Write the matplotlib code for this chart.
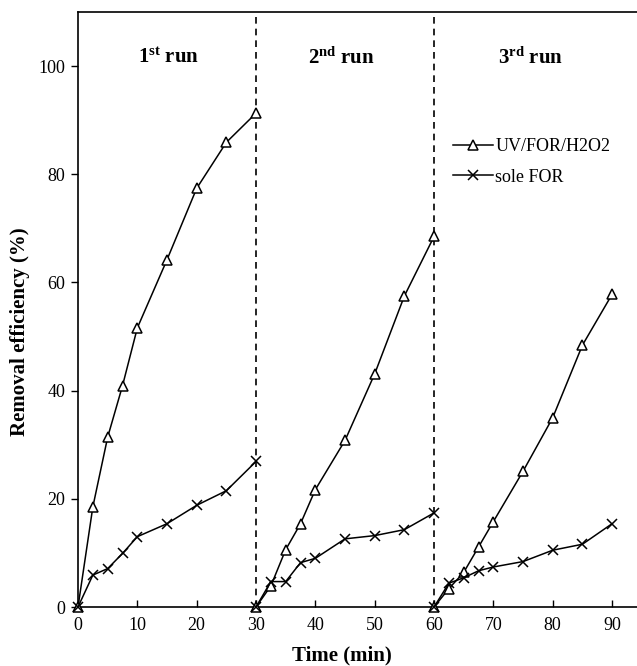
# Removal efficiency over three consecutive runs: UV/FOR/H2O2 vs sole FOR

import numpy as np
import matplotlib.pyplot as plt

plt.rcParams['font.family'] = ['Liberation Serif', 'DejaVu Serif']
plt.rcParams['mathtext.fontset'] = 'custom'
plt.rcParams['mathtext.rm'] = 'Liberation Serif'
plt.rcParams['mathtext.bf'] = 'Liberation Serif:bold'


# DATA (time in min, removal in %)

t_run1 = [0, 2.5, 5, 7.5, 10, 15, 20, 25, 30]
t_run2 = [30, 32.5, 35, 37.5, 40, 45, 50, 55, 60]
t_run3 = [60, 62.5, 65, 67.5, 70, 75, 80, 85, 90]

uv_run1 = [0, 18.5, 31.4, 40.9, 51.6, 64.2, 77.4, 85.9, 91.3]
uv_run2 = [0, 3.9, 10.6, 15.4, 21.7, 30.8, 43.1, 57.5, 68.5]
uv_run3 = [0, 3.4, 6.4, 11.1, 15.8, 25.1, 35.0, 48.4, 57.8]

sole_run1 = [0, 5.9, 7.1, 9.9, 13.0, 15.4, 18.8, 21.5, 26.9]
sole_run2 = [0, 4.7, 4.7, 8.2, 9.0, 12.6, 13.2, 14.3, 17.4]
sole_run3 = [0, 4.4, 5.4, 6.7, 7.4, 8.4, 10.5, 11.6, 15.4]

run_labels = [r'$\mathbf{1^{st}}$ run', r'$\mathbf{2^{nd}}$ run', r'$\mathbf{3^{rd}}$ run']
run_label_x = [15.2, 44.4, 76.2]
run_breaks = [30, 60]


# PLOTTING

fig = plt.figure(figsize=(6.37, 6.66), dpi=100)
ax = fig.add_axes([78 / 637, 59 / 666, 559 / 637, 595 / 666])

runs_t = [t_run1, t_run2, t_run3]
runs_uv = [uv_run1, uv_run2, uv_run3]
runs_sole = [sole_run1, sole_run2, sole_run3]

for i in range(3):
    ax.plot(runs_t[i], runs_uv[i], color='black', lw=1.1, marker='^', ms=7,
            mfc='white', mec='black', mew=1.1, clip_on=False, zorder=3,
            label='UV/FOR/H2O2' if i == 0 else None)
    ax.plot(runs_t[i], runs_sole[i], color='black', lw=1.1, marker='x', ms=7.5,
            mew=1.1, clip_on=False, zorder=3,
            label='sole FOR' if i == 0 else None)

for xb in run_breaks:
    ax.axvline(xb, color='black', lw=1.2, linestyle=(0, (4, 3)), zorder=2)

for lbl, xl in zip(run_labels, run_label_x):
    ax.text(xl, 101.5, lbl, ha='center', va='center', fontsize=15,
            fontweight='bold')

ax.set_xlim(0, 94.2)
ax.set_ylim(0, 110)
ax.set_xticks(np.arange(0, 100, 10))
ax.set_yticks(np.arange(0, 120, 20))
ax.tick_params(axis='x', direction='in', length=5, width=1, labelsize=13, pad=7)
ax.tick_params(axis='y', direction='out', length=5, width=1, labelsize=13, pad=4)
ax.spines['right'].set_visible(False)
for s in ['left', 'bottom', 'top']:
    ax.spines[s].set_linewidth(1.2)

ax.set_xlabel('Time (min)', fontsize=15, fontweight='bold')
ax.set_ylabel('Removal efficiency (%)', fontsize=15, fontweight='bold')
ax.xaxis.set_label_coords(0.472, -0.064)
ax.yaxis.set_label_coords(-0.086, 0.462)

ax.legend(loc='upper left', bbox_to_anchor=(0.658, 0.80), frameon=False,
          fontsize=13, handlelength=2.2, handletextpad=0.15, labelspacing=0.75,
          borderaxespad=0)

fig.savefig('out.png', dpi=100)
